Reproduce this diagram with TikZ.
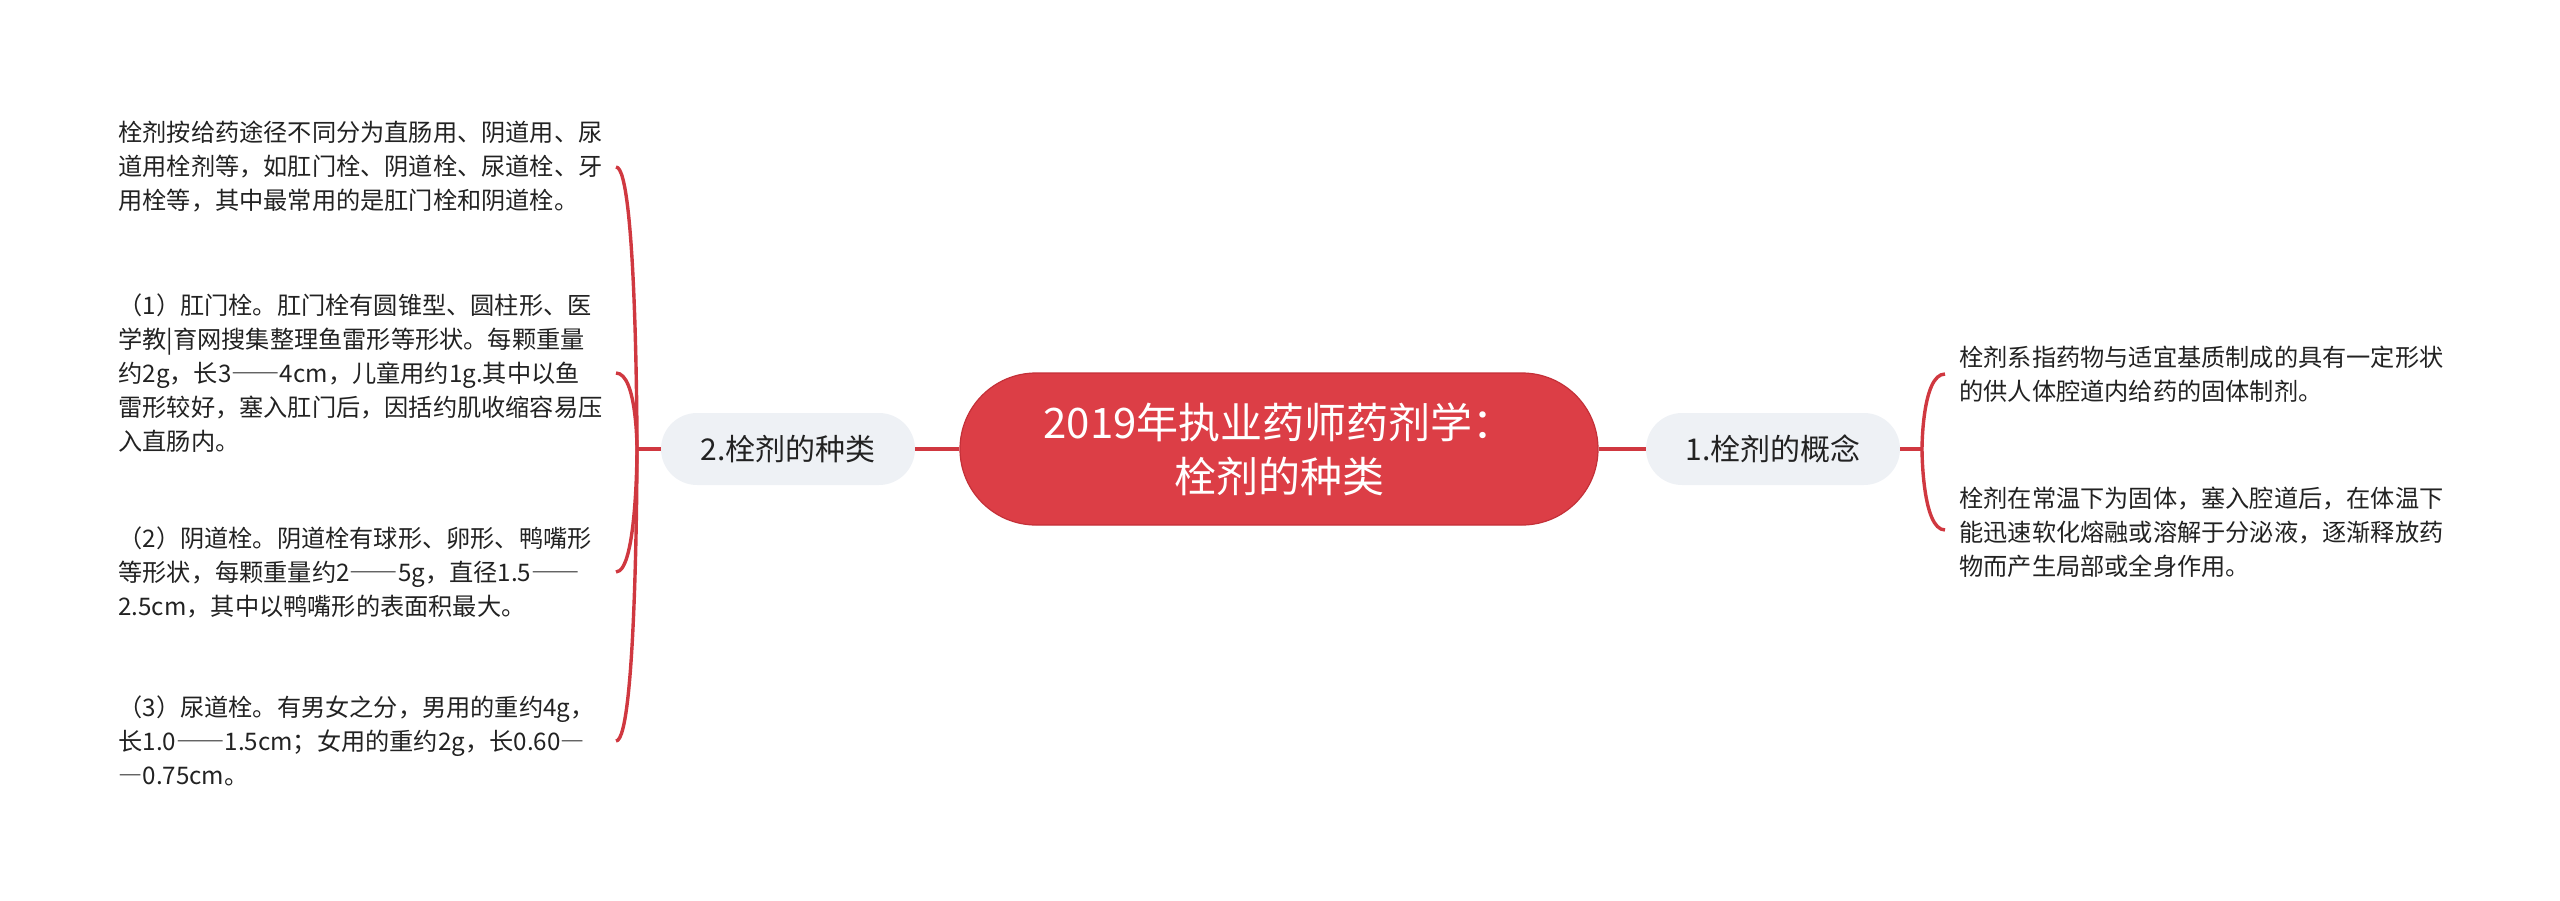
\documentclass[tikz,border=0pt]{standalone}
\usepackage{fontspec}
\setmainfont{Noto Sans CJK SC}
\newcommand{\fw}[1]{{\addfontfeatures{RawFeature=+fwid}#1}}
\definecolor{linkred}{RGB}{208,56,64}
\definecolor{rootred}{RGB}{220,62,70}
\definecolor{rootborder}{RGB}{196,48,56}
\definecolor{subgray}{RGB}{238,241,245}
\definecolor{textdark}{RGB}{34,34,34}
\tikzset{
  link/.style={draw=linkred, line width=1.7pt},
  rootnode/.style={fill=rootred, draw=rootborder, line width=0.6pt, rounded corners=38pt,
    minimum width=319pt, minimum height=76pt, text=white, inner sep=0pt,
    font=\fontsize{21pt}{27pt}\selectfont, align=center},
  subnode/.style={fill=subgray, rounded corners=18pt, minimum width=127pt, minimum height=36pt,
    inner sep=0pt, text=textdark, font=\fontsize{15pt}{18pt}\selectfont},
  leaf/.style={anchor=west, align=left, inner sep=0pt, text=textdark,
    font=\fontsize{12.1pt}{17pt}\selectfont}
}
\begin{document}
\begin{tikzpicture}[x=0.5pt,y=-0.5pt]
\useasboundingbox (0,0) rectangle (2560,900);

\node[rootnode] (root) at (1279,449) {2019年执业药师药剂学：\\栓剂的种类};
\node[subnode] (left) at (788,449) {2.栓剂的种类};
\node[subnode] (right) at (1773,449) {1.栓剂的概念};

\node[leaf] (la) at (118,167) {栓剂按给药途径不同分为直肠用、阴道用、尿\\道用栓剂等，如肛门栓、阴道栓、尿道栓、牙\\用栓等，其中最常用的是肛门栓和阴道栓。};
\node[leaf] (lb) at (118,373) {（1）肛门栓。肛门栓有圆锥型、圆柱形、医\\学教|育网搜集整理鱼雷形等形状。每颗重量\\约2g，长3\fw{——}4cm，儿童用约1g.其中以鱼\\雷形较好，塞入肛门后，因括约肌收缩容易压\\入直肠内。};
\node[leaf] (lc) at (118,572) {（2）阴道栓。阴道栓有球形、卵形、鸭嘴形\\等形状，每颗重量约2\fw{——}5g，直径1.5\fw{——}\\2.5cm，其中以鸭嘴形的表面积最大。};
\node[leaf] (ld) at (118,741) {（3）尿道栓。有男女之分，男用的重约4g，\\长1.0\fw{——}1.5cm；女用的重约2g，长0.60\fw{—}\\\fw{—}0.75cm。};

\node[leaf] (ra) at (1959,374) {栓剂系指药物与适宜基质制成的具有一定形状\\的供人体腔道内给药的固体制剂。};
\node[leaf] (rb) at (1959,532) {栓剂在常温下为固体，塞入腔道后，在体温下\\能迅速软化熔融或溶解于分泌液，逐渐释放药\\物而产生局部或全身作用。};

\coordinate (jl) at (637,449);
\coordinate (jr) at (1922,449);
\coordinate (ea) at (616,167);
\coordinate (eb) at (616,373);
\coordinate (ec) at (616,572);
\coordinate (ed) at (616,741);
\coordinate (era) at (1945,374);
\coordinate (erb) at (1945,530);

\draw[link] (root.west) -- (left.east);
\draw[link] (root.east) -- (right.west);
\draw[link] (left.west) -- (jl);
\draw[link] (right.east) -- (jr);

\foreach \e in {ea,eb,ec,ed}{
  \draw[link] (jl) .. controls (jl) and (jl |- \e) .. (\e);
}
\foreach \e in {era,erb}{
  \draw[link] (jr) .. controls (jr) and (jr |- \e) .. (\e);
}
\end{tikzpicture}
\end{document}
